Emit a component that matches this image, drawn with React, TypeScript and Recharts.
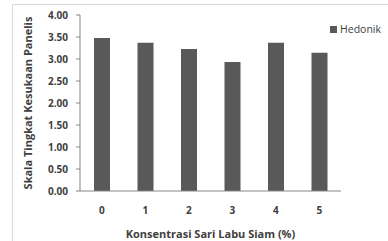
import { BarChart, Bar, XAxis, YAxis } from 'recharts';

const categories = ['0', '1', '2', '3', '4', '5'];
const hedonik = [3.48, 3.37, 3.23, 2.93, 3.37, 3.14];
const yTicks = [0, 0.5, 1, 1.5, 2, 2.5, 3, 3.5, 4];
const seriesName = 'Hedonik';

const TEXT = '#404040';
const BAR = '#595959';
const AXIS = '#868686';
const FONT = '"Open Sans", sans-serif';

const data = categories.map((c, i) => ({ name: c, [seriesName]: hedonik[i] }));

const tickStyle = { fontSize: 10, fontWeight: 700, fill: TEXT, fontFamily: FONT };
const titleStyle = { fontSize: 11, fontWeight: 700, fill: TEXT, fontFamily: FONT };

export default function App() {
  return (
    <div style={{ position: 'absolute', left: 0, top: 0, width: 388, height: 241, overflow: 'hidden', background: '#fff' }}>
      {/* bingkai luar grafik */}
      <div
        style={{
          position: 'absolute',
          left: 12,
          top: 4,
          width: 420,
          height: 280,
          border: '1px solid #d9d9d9',
        }}
      />
      <div style={{ position: 'absolute', left: 0, top: 0 }}>
        <BarChart width={388} height={241} data={data} margin={{ top: 15, right: 47, left: 0, bottom: 0 }}>
          <XAxis
            dataKey="name"
            height={50}
            tickLine={false}
            tickSize={6}
            tickMargin={10}
            axisLine={{ stroke: AXIS }}
            tick={tickStyle}
            label={{
              value: 'Konsentrasi Sari Labu Siam (%)',
              position: 'insideBottom',
              offset: 3,
              style: titleStyle,
            }}
          />
          <YAxis
            width={80}
            domain={[0, 4]}
            ticks={yTicks}
            tickFormatter={(v: number) => v.toFixed(2)}
            tickSize={4}
            tickMargin={8}
            tickLine={{ stroke: AXIS }}
            axisLine={{ stroke: AXIS }}
            tick={tickStyle}
            label={{
              value: 'Skala Tingkat Kesukaan Panelis',
              angle: -90,
              position: 'insideLeft',
              offset: 28,
              style: { ...titleStyle, textAnchor: 'middle' },
            }}
          />
          <Bar dataKey={seriesName} fill={BAR} barSize={16} isAnimationActive={false} />
        </BarChart>
      </div>
      {/* legenda */}
      <div
        style={{
          position: 'absolute',
          left: 330,
          top: 22,
          display: 'flex',
          alignItems: 'center',
          fontFamily: FONT,
          fontSize: 10.5,
          color: TEXT,
        }}
      >
        <div style={{ width: 7, height: 7, background: BAR, marginRight: 3 }} />
        <span>{seriesName}</span>
      </div>
    </div>
  );
}
